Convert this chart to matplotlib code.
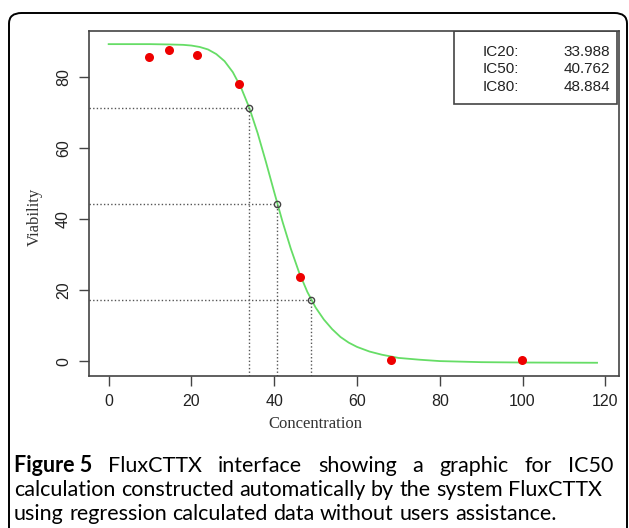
import matplotlib

matplotlib.use("Agg")
import matplotlib.pyplot as plt
from matplotlib.patches import FancyBboxPatch, Rectangle

# measured viability (red dots)
conc = [9.8, 14.5, 21.3, 31.5, 46.3, 68.2, 99.9]
viab = [85.7, 87.6, 86.3, 78.2, 23.7, 0.4, 0.2]

# fitted curve
curve_x = [0, 10, 15, 18, 20, 22, 24, 26, 28, 30, 32, 34, 36, 38, 40, 42, 44,
           46, 48, 50, 52, 54, 56, 58, 60, 63, 66, 70, 75, 80, 90, 100, 118]
curve_y = [89.3, 89.3, 89.2, 89.1, 88.9, 88.5, 87.8, 86.5, 84.5, 81.4, 77.0,
           71.3, 64.2, 56.1, 47.6, 39.3, 31.7, 25.0, 19.5, 15.1, 11.7, 9.0,
           6.8, 5.2, 4.0, 2.7, 1.8, 0.9, 0.4, 0.0, -0.3, -0.4, -0.47]

ic_names = ["IC20:", "IC50:", "IC80:"]
ic_conc = [33.988, 40.762, 48.884]
ic_viab = [71.3, 44.4, 17.2]

caption = [
    ["FluxCTTX", "interface", "showing", "a", "graphic", "for", "IC50"],
    ["calculation", "constructed", "automatically", "by", "the", "system", "FluxCTTX"],
    ["using", "regression", "calculated", "data", "without", "users", "assistance."],
]

W, H = 629, 528
fig = plt.figure(figsize=(W / 100, H / 100), dpi=100)

# outer rounded frame (open at the bottom)
frame = FancyBboxPatch((9 / W, -0.05), 618 / W, 1.05 - 13 / H,
                       boxstyle="round,pad=0,rounding_size=0.02",
                       transform=fig.transFigure, fill=False,
                       edgecolor="black", linewidth=1.4)
fig.patches.append(frame)

ax = fig.add_axes([89 / W, 1 - 376 / H, 530 / W, 345 / H])
sans = "Liberation Sans"
serif = "Liberation Serif"
grey = "#444444"

ax.plot(curve_x, curve_y, color="#66dd66", lw=1.3, zorder=2)
ax.plot(conc, viab, "o", color="#ee0000", ms=6.5, mec="none", zorder=3)

ax.set_xlim(-4.75, 123.3)
ax.set_ylim(-4.2, 93.0)
x0, y0 = ax.get_xlim()[0], ax.get_ylim()[0]
ax.hlines(ic_viab, x0, ic_conc, colors="#555555", linestyles=(0, (1, 1.6)), lw=1)
ax.vlines(ic_conc, y0, ic_viab, colors="#555555", linestyles=(0, (1, 1.6)), lw=1)
ax.plot(ic_conc, ic_viab, "o", mfc="none", mec="#444444", ms=4.5, mew=1, zorder=4)

ax.set_xticks(range(0, 121, 20))
ax.set_yticks(range(0, 81, 20))
ax.tick_params(length=7, width=1, color=grey, labelsize=11.5, labelcolor="#222222",
               pad=6)
for lab in ax.get_xticklabels():
    lab.set_fontfamily(sans)
for lab in ax.get_yticklabels():
    lab.set_fontfamily(sans)
    lab.set_rotation(90)
    lab.set_va("center")
for sp in ax.spines.values():
    sp.set_color(grey)
    sp.set_linewidth(1.2)

# IC value box
ax.add_patch(Rectangle((0.689, 0.787), 0.308, 0.213, transform=ax.transAxes,
                       fill=False, edgecolor=grey, lw=1.2, zorder=5))
for i, (name, val) in enumerate(zip(ic_names, ic_conc)):
    yy = 0.940 - i * 0.051
    ax.text(0.742, yy, name, transform=ax.transAxes, ha="left", va="center",
            fontsize=11, family=sans, color="#222222")
    ax.text(0.983, yy, f"{val:.3f}", transform=ax.transAxes, ha="right",
            va="center", fontsize=11, family=sans, color="#222222")

fig.text(35 / W, 1 - 217 / H, "Viability", rotation=90, ha="center", va="center",
         fontsize=12, family=serif, color="#333333")
fig.text(315 / W, 1 - 424 / H, "Concentration", ha="center", va="center",
         fontsize=12, family=serif, color="#333333")

# caption: first line justified, the others ragged
cap_font = "Lato"
left, right = 14, 613
line_y = [466, 490, 514]
fig.canvas.draw()
r = fig.canvas.get_renderer()


def word_width(txt, size, weight="normal"):
    t = fig.text(0, 0, txt, fontsize=size, family=cap_font, weight=weight)
    w = t.get_window_extent(r).width
    t.remove()
    return w


# fit the size so that the second line fills to about x=602
cap_size = 12 * 588 / word_width(" ".join(caption[1]), 12)
space = word_width("a a", cap_size) - 2 * word_width("a", cap_size)
for li, words in enumerate(caption):
    items = [(w, "normal") for w in words]
    if li == 0:
        items = [("Figure 5", "bold")] + items
    widths = [word_width(w, cap_size, wt) for w, wt in items]
    if li == 0:
        gap = (right - left - sum(widths)) / (len(items) - 1)
    else:
        gap = space
    x = left
    for (w, wt), wd in zip(items, widths):
        fig.text(x / W, 1 - line_y[li] / H, w, fontsize=cap_size, family=cap_font,
                 weight=wt, va="center", ha="left", color="black")
        x += wd + gap

fig.savefig("out.png", dpi=100)
